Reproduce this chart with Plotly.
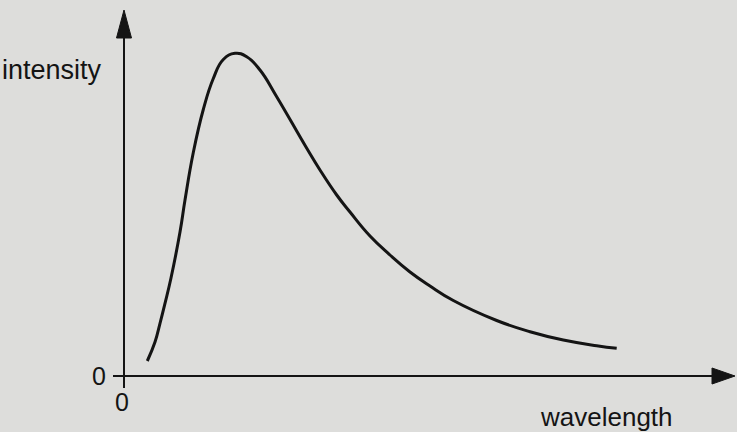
import plotly.graph_objects as go

# Curve data (arbitrary units)
wavelength = [0.233, 0.31, 0.36, 0.41, 0.47, 0.56, 0.61, 0.693, 0.793, 0.893, 0.993,
              1.11, 1.227, 1.36, 1.527, 1.82, 1.96, 2.127, 2.26, 2.46, 2.66, 2.86,
              3.06, 3.293, 3.727, 4.06, 4.393, 4.727, 4.927]
intensity = [0.15, 0.34, 0.527, 0.727, 0.98, 1.44, 1.76, 2.235, 2.665, 2.975, 3.165,
             3.227, 3.193, 3.06, 2.793, 2.29, 2.06, 1.81, 1.64, 1.40, 1.21, 1.04,
             0.90, 0.755, 0.555, 0.443, 0.36, 0.303, 0.277]

x_label = "wavelength"
y_label = "intensity"
origin_labels = ["0", "0"]

# Axis extents
X_MIN, X_MAX = -1.24, 6.13
Y_MIN, Y_MAX = -0.56, 3.76
xa_start, xa_end, xa_tip = -0.11, 5.88, 6.11
ya_start, ya_end, ya_tip = -0.12, 3.38, 3.66

INK = "#141414"
BG = "#dddddb"
FONT = "Liberation Sans, Arial, sans-serif"

fig = go.Figure()
fig.add_trace(go.Scatter(
    x=wavelength, y=intensity, mode="lines",
    line=dict(color=INK, width=3, shape="spline", smoothing=1.3),
    hoverinfo="skip", showlegend=False,
))

shapes = [
    dict(type="line", x0=xa_start, y0=0, x1=xa_end, y1=0, line=dict(color=INK, width=2)),
    dict(type="line", x0=0, y0=ya_start, x1=0, y1=ya_end, line=dict(color=INK, width=2)),
    dict(type="path",
         path=f"M {xa_end},{-0.08} L {xa_tip},0 L {xa_end},{0.08} Z",
         fillcolor=INK, line=dict(color=INK, width=1)),
    dict(type="path",
         path=f"M {-0.075},{ya_end} L 0,{ya_tip} L {0.075},{ya_end} Z",
         fillcolor=INK, line=dict(color=INK, width=1)),
]

annotations = [
    dict(x=-0.2, y=3.06, text=y_label, xanchor="right", yanchor="middle",
         showarrow=False, font=dict(size=27, color=INK, family=FONT)),
    dict(x=4.82, y=-0.405, text=x_label, xanchor="center", yanchor="middle",
         showarrow=False, font=dict(size=26, color=INK, family=FONT)),
    dict(x=-0.16, y=0.0, text=origin_labels[0], xanchor="right", yanchor="middle",
         showarrow=False, font=dict(size=25, color=INK, family=FONT)),
    dict(x=-0.02, y=-0.26, text=origin_labels[1], xanchor="center", yanchor="middle",
         showarrow=False, font=dict(size=25, color=INK, family=FONT)),
]

fig.update_layout(
    width=737, height=432,
    margin=dict(l=0, r=0, t=0, b=0),
    paper_bgcolor=BG, plot_bgcolor=BG,
    xaxis=dict(range=[X_MIN, X_MAX], visible=False, fixedrange=True),
    yaxis=dict(range=[Y_MIN, Y_MAX], visible=False, fixedrange=True),
    shapes=shapes, annotations=annotations,
)

fig.write_html("out.html", config={"displayModeBar": False},
               post_script="document.body.style.margin='0';document.body.style.overflow='hidden';")
